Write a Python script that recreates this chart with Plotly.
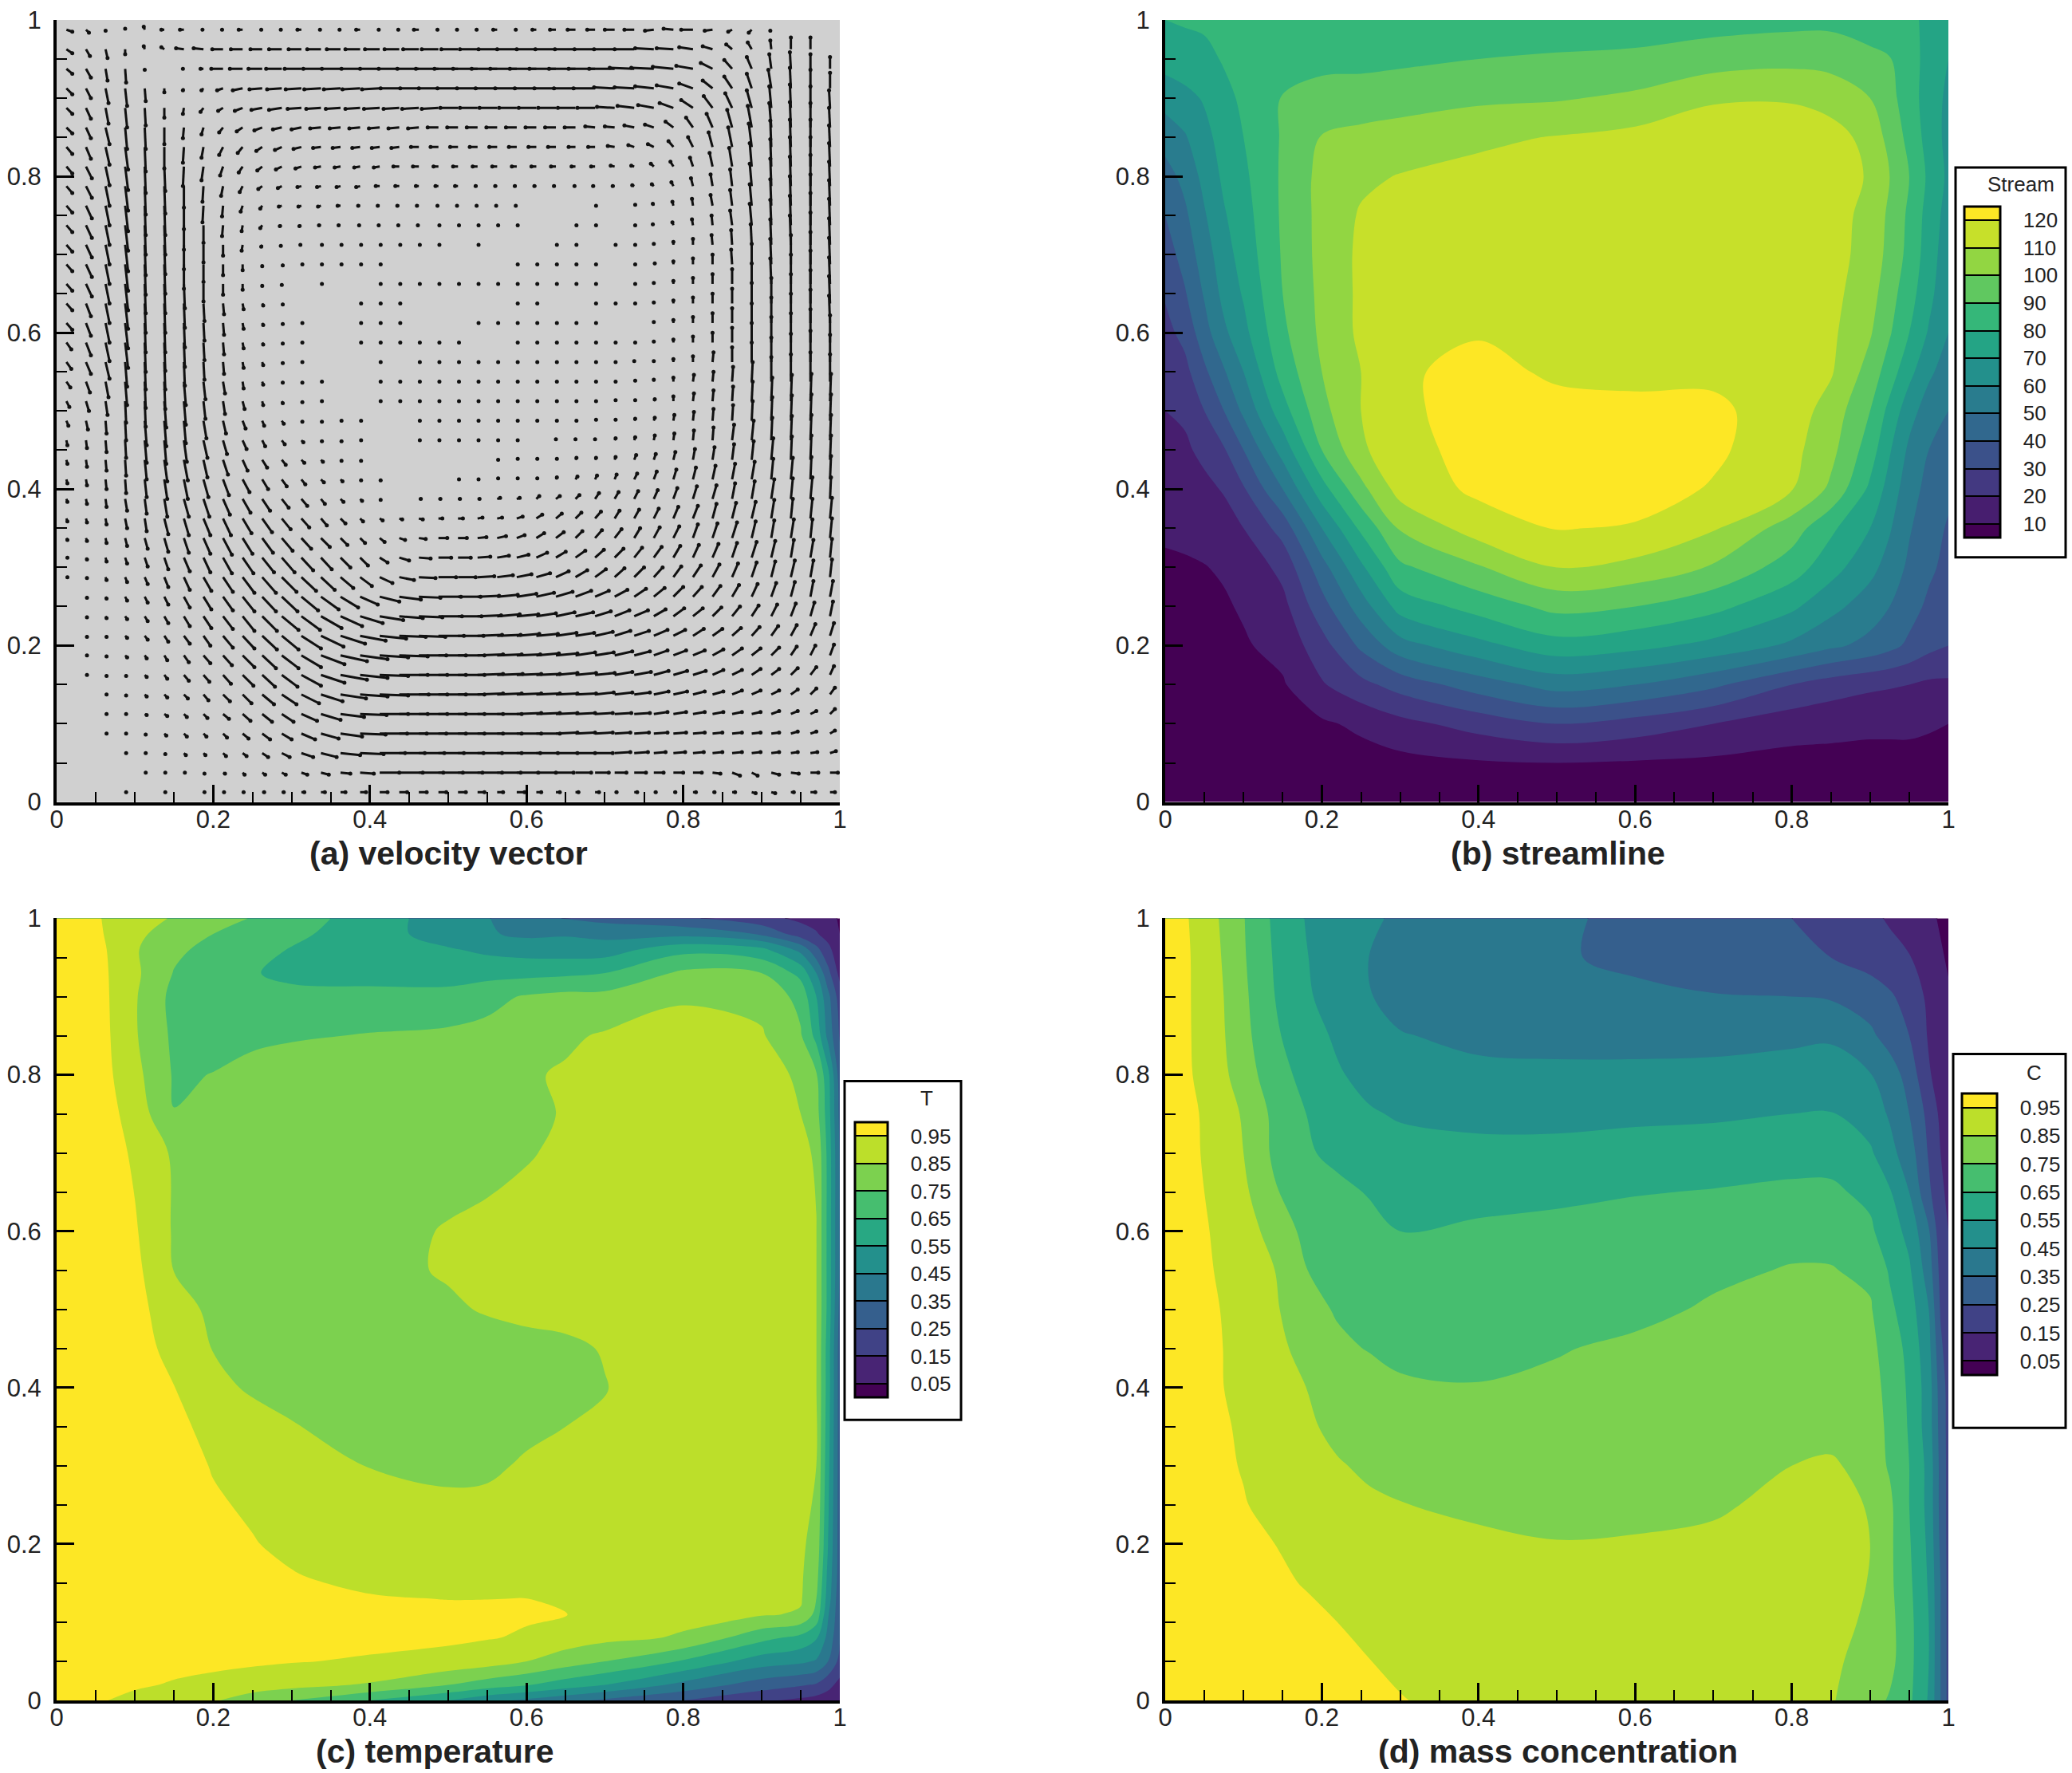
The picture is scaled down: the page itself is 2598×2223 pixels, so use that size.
import plotly.graph_objects as go

W, H = 2598, 2223

# ---------- (b) stream function ----------
X_B = [0, .025, .05, .075, .1, .15, .2, .25, .3, .4, .5, .6, .7, .8, .85, .9, .925, .95, .975, 1]
Y_B = [0, .05, .1, .15, .2, .25, .3, .35, .4, .45, .5, .55, .6, .65, .7, .75, .8, .85, .9, .95, 1]
Z_B = [
 [3,3,3,3,3,3,3,3,3,3,3,3,3,3,3,3,3,3,3,3],
 [5,5,5,5,5,5,6,6,7,9,10,9,8,7,7,7,7,7,7,6],
 [7,7,7,7,7,7,8.5,12,17,24,30,26,20,14,13,12,12,12,11,10],
 [8,8,8,8,8,9,19,27,34,45,54,50,42,30,25,22,21,20,18,18],
 [8,8,8,8.5,9,13,26,42,56,67,76,73,67,58,52,47,43,38,33,30],
 [8,8,8.5,9,11,17,36,55,74,84,93,90,83,72,63,55,50,44,38,34],
 [9,9,9.7,11,13,23,46,68,88,99,110,107,99,85,74,63,56,48,42,37],
 [11,12,13,15,20,34,60,82,101,115,120.5,119,111,95,82,70,61,51,44,39],
 [13,15,17,21,29,50,76,97,114,122,125,125,119,110.5,98,78,66,54,47,42],
 [16,18,23,29,40,64,90,108,118,122,125,125,122,113,103,85,71,58,50,46],
 [20,22,30,40,52,76,97,110,118,124,122,122,122,115,106,90,77,64,55,50],
 [24,27,38,49,60,84,100,110,119,122,119,118,118,114,111,96,85,73,62,55],
 [27,33,46,58,67,88,102,112,115,119.5,117,116,116,115,112,101,91,80,69,60],
 [31,39,51,63,71,90,102.5,112,115,116,116,116,116,116,113,104,94,84,73,62],
 [35,44,55,66,74,91,103,112,115,116,116,116,116,116,114,106,97,87,75,64],
 [40,48,59,69,76,91.5,103,111,114,116,115,115,115,115,114,107,98,88,76,66],
 [46,53,63,72,78,91.5,103,108,110.5,113,114,115,115,115,115,109,100,90,78,68],
 [54,59,67,74,80,91,100.5,102.5,104,108,110.5,113,115,116,115,106,97,87,76,67],
 [64,67,71,77,82,90.5,94,95,96,98,99,102,109,109,105,100,93,85,75,68],
 [74,76,77,81,83,86,87,87,88,90,91,92,95,97,97,92,90.5,85,76,70],
 [80,81,82,82,83,83,84,84,84,85,85,85,86,87,87,86,84,82,78,72],
]

# ---------- (c) temperature ----------
X_C = [0, .03, .06, .1, .15, .2, .25, .3, .4, .5, .55, .6, .65, .7, .8, .9, .95, .97, .985, 1]
Y_C = [0, .02, .05, .08, .11, .13, .16, .2, .3, .4, .45, .5, .55, .6, .7, .75, .8, .85, .9, .93, .96, .98, 1]
Z_C = [
 [1,1,.955,.92,.89,.86,.80,.75,.65,.55,.48,.43,.38,.33,.25,.165,.13,.11,.10,.08],
 [1,1,.99,.965,.94,.92,.90,.88,.84,.75,.70,.66,.60,.55,.42,.30,.26,.24,.18,.12],
 [1,1,1,1,.985,.975,.965,.955,.94,.92,.895,.85,.80,.75,.64,.50,.47,.44,.35,.22],
 [1,1,1,1,1,1,.99,.985,.975,.965,.955,.94,.90,.875,.84,.68,.62,.56,.42,.26],
 [1,1,1,1,1,1,1,.995,.985,.975,.97,.96,.952,.91,.875,.86,.84,.72,.46,.28],
 [1,1,1,1,1,1,.995,.98,.958,.948,.949,.951,.915,.90,.88,.87,.86,.75,.50,.28],
 [1,1,1,1,1,.99,.975,.955,.92,.905,.90,.895,.89,.885,.88,.875,.862,.79,.52,.3],
 [1,1,1,1,.99,.975,.955,.93,.90,.89,.885,.885,.88,.88,.88,.875,.865,.82,.55,.3],
 [1,1,1,1,.985,.945,.92,.885,.848,.835,.84,.857,.87,.88,.885,.88,.87,.85,.58,.3],
 [1,1,1,1,.952,.87,.84,.825,.815,.81,.815,.82,.83,.847,.885,.885,.875,.853,.6,.3],
 [1,1,1,.99,.92,.847,.825,.815,.81,.81,.815,.825,.835,.855,.885,.885,.875,.853,.6,.3],
 [1,1,1,.99,.88,.835,.825,.815,.815,.838,.857,.87,.875,.88,.885,.885,.875,.853,.62,.32],
 [1,1,1,.975,.848,.83,.82,.815,.825,.858,.87,.875,.88,.885,.885,.885,.875,.853,.62,.34],
 [1,1,1,.96,.84,.825,.82,.815,.825,.855,.865,.875,.88,.885,.885,.885,.875,.853,.62,.34],
 [1,1,1,.935,.835,.82,.81,.81,.815,.82,.83,.845,.862,.875,.885,.885,.87,.84,.62,.34],
 [1,1,.99,.91,.752,.78,.80,.81,.815,.825,.83,.835,.855,.875,.885,.88,.85,.79,.6,.32],
 [1,1,.98,.88,.74,.752,.78,.80,.81,.82,.83,.84,.86,.875,.885,.875,.84,.76,.58,.3],
 [1,1,.975,.86,.73,.725,.73,.74,.755,.77,.78,.80,.835,.86,.885,.86,.76,.62,.42,.24],
 [1,1,.97,.86,.72,.71,.70,.69,.69,.68,.72,.76,.78,.78,.84,.82,.72,.55,.38,.2],
 [1,1,.965,.87,.745,.70,.66,.615,.60,.61,.615,.62,.63,.65,.77,.75,.62,.45,.28,.12],
 [1,1,.96,.86,.77,.72,.68,.645,.60,.56,.53,.51,.50,.50,.62,.58,.42,.28,.18,.08],
 [1,1,.95,.88,.79,.75,.71,.67,.60,.50,.46,.43,.44,.42,.42,.34,.20,.16,.11,.05],
 [1,1,.945,.9,.84,.79,.745,.70,.60,.50,.455,.39,.345,.32,.27,.18,.13,.11,.08,.04],
]

# ---------- (d) mass concentration ----------
X_D = [0, .03, .05, .07, .1, .14, .18, .22, .26, .3, .4, .5, .6, .7, .8, .85, .9, .925, .95, .975, .99, 1]
Y_D = [0, .05, .1, .15, .2, .25, .3, .35, .4, .45, .5, .55, .6, .65, .7, .75, .8, .85, .9, .95, 1]
Z_D = [
 [1,1,1,1,1,1,1,.99,.975,.955,.91,.89,.885,.88,.875,.858,.79,.74,.67,.54,.35,.22],
 [1,1,1,1,1,1,.99,.975,.952,.93,.905,.89,.885,.885,.88,.865,.82,.78,.68,.55,.35,.22],
 [1,1,1,1,1,.985,.97,.95,.93,.915,.895,.885,.88,.88,.88,.87,.84,.78,.68,.55,.35,.22],
 [1,1,1,1,.985,.965,.945,.925,.91,.90,.885,.875,.87,.87,.87,.87,.848,.77,.67,.54,.35,.22],
 [1,1,1,.985,.97,.95,.925,.905,.89,.88,.87,.855,.86,.865,.87,.87,.85,.77,.66,.53,.33,.22],
 [1,1,1,.975,.955,.925,.90,.875,.86,.853,.83,.81,.82,.84,.87,.875,.845,.77,.65,.52,.32,.22],
 [1,1,.99,.965,.945,.905,.875,.855,.84,.825,.80,.78,.785,.81,.85,.87,.80,.74,.65,.52,.32,.22],
 [1,1,.985,.96,.94,.89,.86,.835,.82,.80,.78,.77,.77,.78,.80,.80,.775,.74,.64,.50,.31,.22],
 [1,.995,.98,.955,.925,.89,.85,.815,.795,.765,.755,.765,.785,.80,.81,.815,.79,.72,.635,.50,.30,.22],
 [1,.99,.975,.955,.915,.875,.82,.77,.745,.725,.72,.745,.765,.785,.80,.805,.78,.70,.625,.48,.27,.2],
 [1,.985,.97,.95,.905,.862,.785,.74,.72,.705,.70,.715,.73,.76,.78,.785,.76,.67,.60,.45,.24,.18],
 [1,.98,.965,.94,.895,.85,.752,.72,.70,.685,.68,.69,.71,.735,.755,.755,.73,.64,.565,.40,.22,.165],
 [1,.975,.96,.93,.885,.82,.72,.695,.675,.65,.66,.67,.69,.71,.725,.72,.665,.60,.52,.36,.19,.15],
 [1,.97,.95,.92,.87,.76,.69,.67,.645,.625,.63,.635,.645,.655,.665,.665,.63,.56,.45,.27,.17,.13],
 [1,.965,.945,.91,.85,.73,.66,.63,.60,.585,.58,.58,.59,.60,.62,.62,.565,.48,.40,.24,.15,.11],
 [1,.96,.945,.90,.84,.725,.65,.59,.56,.54,.52,.52,.53,.535,.55,.555,.50,.44,.35,.22,.13,.1],
 [1,.955,.935,.88,.80,.69,.62,.56,.52,.495,.47,.47,.47,.475,.48,.485,.455,.40,.31,.16,.11,.08],
 [1,.955,.925,.87,.78,.665,.59,.535,.49,.455,.43,.42,.42,.42,.435,.44,.37,.31,.25,.14,.09,.07],
 [1,.955,.92,.865,.77,.65,.565,.50,.455,.42,.40,.39,.37,.355,.35,.34,.30,.265,.21,.13,.08,.06],
 [1,.955,.915,.855,.76,.64,.555,.49,.45,.42,.385,.36,.33,.30,.27,.25,.21,.18,.155,.10,.06,.04],
 [1,.95,.905,.845,.755,.63,.545,.50,.46,.44,.41,.37,.32,.29,.25,.20,.17,.14,.11,.07,.04,.03],
]

# ---------- (a) velocity vectors ----------
X_A = [.0125 + .025 * i for i in range(40)]
Y_A = [.0125 + .025 * j for j in range(40)]
U_A = [
 [0,0,0,1,0,1,0,1,1,1,2,2,3,4,5,6,8,8,8,8,8,7,6,8,5,4,3,4,2,3,2,2,3,2,3,4,4,3,5,5],
 [0,0,0,0,1,1,1,1,2,2,3,4,6,8,10,14,20,24,25,25,25,25,24,22,20,18,16,14,12,12,10,10,9,8,8,6,8,8,8,8],
 [0,0,0,1,1,1,2,2,3,4,6,8,12,16,20,24,26,26,26,26,26,25,25,24,22,22,20,18,16,14,12,12,11,10,10,9,8,7,7,6],
 [0,0,1,1,1,2,3,3,4,6,8,10,14,18,22,26,28,28,28,28,27,26,25,25,24,22,20,18,16,15,14,13,12,10,10,9,8,7,6,5],
 [0,0,1,1,2,3,3,4,6,8,10,12,16,20,24,27,29,29,29,28,27,26,25,25,24,22,20,18,17,16,14,13,12,11,10,9,8,7,6,5],
 [0,0,1,1,2,3,4,5,7,9,12,15,18,22,26,28,29,30,29,28,27,26,25,25,24,22,21,19,18,16,15,14,12,11,10,9,8,7,6,5],
 [0,1,1,1,2,3,5,6,8,11,13,16,20,24,27,28,29,29,29,28,27,26,26,25,24,22,21,20,18,17,15,14,13,11,10,9,8,7,6,4],
 [0,1,1,2,2,3,5,7,9,12,14,17,20,24,27,28,29,29,28,28,27,26,25,24,23,22,20,19,18,16,14,13,12,11,10,9,8,6,5,4],
 [0,1,1,2,3,4,6,7,10,12,15,17,20,23,25,26,27,27,27,26,26,25,24,23,22,21,19,18,16,15,14,12,11,10,9,8,7,6,5,4],
 [0,1,1,2,3,4,6,8,10,12,15,17,19,21,22,23,24,24,24,24,24,24,23,22,20,19,18,16,15,14,12,11,10,9,8,7,6,5,4,3],
 [0,1,1,2,3,4,6,8,10,12,14,16,17,18,18,18,20,22,22,23,23,22,21,20,18,17,16,14,13,12,11,10,9,8,7,6,5,4,3,3],
 [1,1,1,2,3,4,6,8,10,12,14,15,15,14,13,12,13,15,17,18,18,17,16,15,14,13,12,11,10,10,9,8,8,7,6,5,4,4,3,2],
 [1,1,1,2,3,4,6,7,9,11,12,13,12,11,10,8,8,10,12,13,13,13,12,12,11,10,10,9,9,8,8,7,6,6,5,5,4,3,3,2],
 [1,1,1,2,3,4,5,7,9,10,11,11,10,9,7,5,5,6,7,9,9,9,9,8,8,8,7,7,7,6,6,6,5,5,5,4,3,3,2,2],
 [1,1,1,2,2,4,5,7,8,9,10,9,8,6,5,3,3,3,4,4,5,5,5,6,6,6,6,6,5,5,5,5,5,4,4,4,3,2,2,2],
 [1,1,1,2,2,3,5,6,7,8,8,7,6,4,3,2,1,0,2,2,2,2,3,3,3,4,4,4,4,4,4,4,4,4,3,3,3,2,2,1],
 [1,1,1,1,2,3,4,5,6,7,6,5,4,3,2,1,1,0,0,0,1,1,1,1,1,1,2,2,2,3,3,3,3,3,3,3,2,2,1,1],
 [1,1,1,1,2,3,4,4,5,5,5,4,3,2,1,1,0,0,0,0,0,0,1,1,1,1,1,1,1,2,2,2,2,2,2,2,2,1,1,1],
 [1,1,1,1,2,2,3,4,4,4,3,3,2,1,1,1,0,0,1,1,1,1,1,1,0,0,0,0,1,1,1,1,1,1,2,2,1,1,1,1],
 [2,2,1,1,2,2,2,3,3,3,2,2,1,1,1,1,0,0,1,1,1,1,1,1,1,1,1,1,1,1,1,1,1,1,1,1,1,1,1,1],
 [3,3,2,1,1,2,2,2,2,2,1,1,1,1,0,0,1,1,1,1,1,1,1,1,1,1,1,1,1,1,1,0,1,1,1,1,1,1,1,1],
 [4,4,3,2,1,1,2,2,2,1,1,1,1,1,0,0,1,1,1,1,1,1,1,1,1,1,1,1,1,1,0,0,1,1,1,1,0,0,0,0],
 [5,5,4,2,1,1,1,1,1,1,1,1,1,0,0,0,1,0,1,1,1,1,1,1,1,1,1,1,1,0,0,0,0,1,0,0,0,0,0,0],
 [5,5,4,3,1,1,1,1,1,1,1,1,1,0,0,1,1,1,1,1,1,0,0,1,1,1,1,1,1,1,0,0,0,0,0,0,0,0,0,0],
 [6,5,4,3,1,1,1,1,1,1,1,1,1,0,0,1,1,1,0,0,0,1,1,1,1,1,1,1,0,0,0,0,0,0,0,0,0,0,0,-1],
 [6,5,4,3,1,1,1,1,1,1,1,1,0,0,0,1,1,1,0,0,0,0,0,1,1,0,0,1,1,1,0,0,0,0,0,0,0,0,0,-1],
 [6,6,4,3,1,1,1,0,0,0,0,0,0,1,0,0,1,1,1,1,1,1,1,1,1,1,1,1,0,1,0,0,0,0,0,0,-1,0,0,-1],
 [6,6,4,3,1,1,0,0,0,0,0,1,1,1,1,1,1,0,0,0,0,0,0,1,1,1,1,1,0,1,1,0,0,0,-1,0,-1,0,0,-1],
 [6,6,4,3,1,1,0,0,0,-1,-1,-1,-1,1,1,1,1,1,1,1,0,1,0,0,0,1,1,0,1,1,0,0,0,-1,-1,-1,-1,-1,0,-1],
 [6,6,4,3,1,1,0,0,-1,-1,-2,-2,-2,-2,-2,-1,-1,-1,-1,1,1,1,1,1,0,0,1,1,0,1,-1,-1,-1,-1,-2,-2,-1,-1,0,-1],
 [6,6,4,3,1,1,0,-1,-1,-2,-2,-3,-3,-3,-3,-2,-2,-2,-2,-1,-1,-1,-1,-1,0,0,0,1,0,1,-1,-1,-1,-2,-2,-2,-1,-1,0,-1],
 [6,6,4,3,1,1,0,-1,-2,-3,-4,-4,-4,-4,-4,-4,-4,-4,-3,-3,-3,-2,-2,-2,-2,-2,-1,-2,-2,-2,-2,-2,-2,-2,-2,-2,-1,-1,0,-1],
 [6,6,4,3,1,1,-1,-2,-3,-4,-5,-6,-6,-6,-6,-6,-6,-6,-6,-5,-5,-5,-5,-5,-5,-5,-4,-4,-4,-3,-3,-3,-3,-3,-3,-2,-1,-1,0,-1],
 [6,5,4,3,1,0,-1,-2,-4,-5,-6,-7,-8,-8,-8,-8,-8,-8,-8,-8,-8,-8,-8,-8,-8,-8,-7,-7,-7,-6,-6,-5,-5,-4,-4,-3,-1,-1,0,-1],
 [6,5,4,2,1,0,-1,-2,-4,-6,-8,-9,-10,-11,-11,-11,-11,-11,-11,-11,-11,-11,-11,-11,-11,-11,-11,-10,-10,-10,-9,-8,-7,-6,-5,-4,-2,-1,0,-1],
 [6,5,3,2,1,0,-1,-3,-5,-8,-11,-13,-14,-15,-15,-15,-16,-16,-17,-17,-18,-18,-18,-18,-18,-18,-18,-18,-18,-17,-16,-14,-12,-9,-7,-5,-2,-1,0,-1],
 [6,5,3,2,1,0,-1,-2,-6,-10,-13,-15,-16,-17,-17,-18,-18,-19,-19,-20,-21,-21,-22,-22,-22,-22,-22,-22,-21,-20,-19,-17,-14,-10,-8,-5,-3,-1,0,0],
 [6,5,2,1,0,0,-1,-3,-12,-13,-14,-16,-17,-18,-19,-19,-20,-21,-22,-23,-24,-25,-26,-27,-27,-27,-27,-27,-26,-25,-23,-21,-17,-12,-8,-5,-2,-1,0,0],
 [6,4,2,0,-1,-3,-8,-10,-11,-12,-12,-13,-13,-14,-14,-15,-15,-15,-16,-17,-17,-18,-19,-20,-20,-21,-21,-21,-21,-20,-19,-17,-14,-10,-6,-4,-1,0,0,0],
 [6,3,0,0,-1,-3,-4,-1,-1,-4,-1,-1,-4,-1,-1,-4,-1,-1,-5,-1,-1,-1,-4,-1,-4,-6,-8,-8,-10,-10,-9,-10,-12,-8,-4,-3,-1,0,0,0],
]
V_A = [
 [0,0,0,0,0,0,0,0,0,0,0,0,0,0,0,0,0,0,0,0,0,0,0,0,0,0,0,0,0,0,0,0,0,0,0,-1,-1,0,0,0],
 [0,0,0,0,0,0,0,-1,-1,-2,-2,-2,-2,-2,-1,-1,0,0,0,0,0,0,0,0,0,0,0,0,0,0,0,0,0,-1,-3,-3,-2,-1,0,0],
 [0,0,0,0,0,-1,-2,-2,-3,-3,-4,-4,-4,-4,-2,-1,0,0,0,0,0,0,0,0,0,0,0,0,1,1,1,1,1,1,1,1,1,1,1,2],
 [0,0,0,0,-1,-2,-3,-3,-4,-5,-6,-6,-6,-5,-3,-1,0,0,0,0,0,0,0,0,0,1,1,1,1,1,1,1,1,1,1,1,1,2,2,3],
 [0,0,0,0,-1,-2,-3,-4,-5,-7,-8,-8,-7,-6,-3,-1,0,0,0,0,0,0,0,1,1,1,1,1,1,1,2,2,2,2,2,2,3,3,3,5],
 [0,0,0,-1,-2,-3,-4,-6,-7,-9,-10,-10,-9,-7,-4,-2,-1,0,0,0,0,1,1,1,1,1,1,2,2,2,3,3,3,3,4,4,4,5,6,7],
 [0,0,-1,-1,-2,-4,-6,-7,-9,-11,-12,-12,-11,-8,-5,-3,-1,0,0,0,0,1,1,1,1,2,2,2,3,3,4,4,4,5,5,6,6,7,8,9],
 [0,0,-1,-2,-3,-5,-7,-8,-10,-12,-13,-13,-12,-9,-6,-4,-2,-1,0,0,0,1,1,1,2,2,3,3,4,4,5,5,5,6,7,7,8,9,10,11],
 [0,-1,-1,-2,-4,-6,-8,-10,-12,-13,-14,-14,-13,-11,-8,-5,-3,-1,-1,0,0,1,1,2,2,3,3,4,5,5,6,6,7,7,8,9,10,11,12,13],
 [0,-1,-2,-3,-5,-7,-10,-12,-13,-15,-15,-14,-14,-12,-10,-7,-4,-2,-1,0,0,1,2,2,3,4,4,5,6,6,7,8,8,9,10,11,12,13,14,15],
 [0,-1,-2,-4,-6,-8,-11,-13,-14,-15,-15,-15,-14,-13,-11,-8,-5,-3,-1,0,0,1,2,3,4,5,6,6,7,8,9,10,10,11,12,13,14,15,16,16],
 [0,-1,-3,-5,-7,-10,-13,-14,-15,-16,-16,-15,-14,-13,-11,-9,-6,-3,-1,0,0,1,2,3,4,6,7,8,9,10,10,11,12,13,14,15,16,17,17,18],
 [0,-2,-4,-6,-9,-12,-14,-15,-16,-16,-15,-15,-13,-12,-10,-8,-5,-3,-1,0,0,1,2,3,5,6,7,8,9,10,11,12,13,14,15,16,17,18,18,19],
 [-2,-3,-5,-8,-11,-14,-15,-16,-17,-16,-15,-13,-11,-9,-7,-5,-4,-2,-1,0,0,1,2,3,5,6,7,8,9,10,11,12,14,15,16,17,18,19,19,20],
 [-3,-4,-6,-10,-13,-16,-17,-17,-17,-15,-14,-11,-9,-7,-5,-3,-2,-1,-1,0,0,1,1,2,4,5,6,7,8,9,10,12,13,15,16,17,19,20,20,21],
 [-3,-5,-8,-12,-15,-18,-18,-18,-16,-14,-12,-9,-7,-5,-3,-2,-1,0,0,0,0,0,1,1,3,3,4,6,7,8,9,11,13,14,16,18,20,21,22,22],
 [-4,-6,-10,-14,-18,-20,-20,-18,-16,-13,-10,-7,-5,-3,-2,-1,-1,0,0,0,0,0,1,1,1,2,3,4,5,6,8,10,12,14,16,18,21,22,23,24],
 [-4,-7,-11,-16,-20,-22,-21,-18,-15,-11,-8,-5,-3,-2,-1,-1,0,0,0,0,0,0,0,1,1,1,2,2,3,5,6,8,11,13,16,19,22,24,25,25],
 [-5,-8,-12,-18,-23,-24,-22,-18,-14,-9,-6,-4,-2,-1,-1,0,0,0,0,0,0,0,0,0,0,1,1,1,2,3,5,7,10,13,16,20,23,25,26,26],
 [-5,-9,-13,-20,-25,-26,-23,-18,-13,-8,-5,-3,-1,-1,0,0,0,0,0,0,0,0,0,0,0,0,0,1,1,2,3,6,9,12,16,20,24,26,27,27],
 [-6,-10,-14,-22,-26,-27,-24,-18,-13,-8,-4,-2,-1,0,0,0,0,0,0,0,0,0,0,0,0,0,0,0,1,1,2,5,8,11,15,20,24,27,28,28],
 [-6,-11,-16,-24,-27,-28,-24,-18,-12,-7,-3,-1,-1,0,0,0,0,0,0,0,0,0,0,0,0,0,0,0,0,1,2,4,7,10,15,20,25,28,30,28],
 [-7,-12,-17,-25,-28,-28,-24,-18,-12,-6,-3,-1,0,0,0,0,0,0,0,0,0,0,0,0,0,0,0,0,0,1,1,3,6,10,15,20,25,29,32,28],
 [-7,-13,-19,-26,-30,-29,-25,-18,-12,-6,-2,-1,0,0,0,0,0,0,0,0,0,0,0,0,0,0,0,0,0,0,1,3,6,10,15,20,26,30,34,28],
 [-7,-13,-20,-26,-30,-30,-25,-18,-12,-6,-2,-1,0,0,0,0,0,0,0,0,0,0,0,0,0,0,0,0,0,0,1,3,6,10,15,20,26,30,34,28],
 [-7,-13,-20,-26,-30,-30,-25,-18,-11,-6,-2,-1,0,0,0,0,0,0,0,0,0,0,0,0,0,0,0,0,0,0,1,3,6,10,15,21,26,30,34,28],
 [-7,-13,-20,-27,-30,-30,-25,-18,-11,-6,-2,-1,0,0,0,0,0,0,0,0,0,0,0,0,0,0,0,0,0,0,1,3,6,10,15,21,26,30,34,27],
 [-7,-13,-20,-27,-31,-30,-25,-18,-11,-6,-2,-1,0,0,0,0,0,0,0,0,0,0,0,0,0,0,0,0,0,0,1,3,6,10,15,21,26,30,33,27],
 [-7,-13,-20,-27,-31,-30,-25,-18,-11,-6,-2,-1,0,0,0,0,0,0,0,0,0,0,0,0,0,0,0,0,0,0,1,3,6,10,15,21,26,30,33,27],
 [-7,-13,-20,-26,-30,-30,-25,-18,-11,-6,-3,-1,-1,0,0,0,0,0,0,0,0,0,0,0,0,0,0,0,0,0,1,3,6,10,15,22,26,30,33,27],
 [-7,-13,-20,-26,-30,-30,-24,-17,-11,-6,-3,-1,-1,-1,0,0,0,0,0,0,0,0,0,0,0,0,0,0,0,1,2,4,7,11,16,22,27,30,32,26],
 [-7,-12,-20,-25,-29,-28,-22,-16,-10,-6,-3,-2,-1,-1,-1,-1,0,0,0,0,0,0,0,0,0,0,0,0,0,1,2,4,8,12,17,23,28,30,32,25],
 [-7,-12,-19,-24,-27,-25,-20,-14,-9,-6,-4,-3,-2,-1,-1,-1,-1,0,0,0,0,0,0,0,0,0,0,0,1,1,3,5,9,14,19,24,28,30,30,24],
 [-7,-12,-18,-23,-25,-22,-16,-11,-8,-6,-4,-3,-2,-1,-1,-1,-1,-1,0,0,0,0,0,0,0,0,0,0,1,2,3,6,10,15,20,24,27,28,28,22],
 [-6,-11,-17,-22,-22,-17,-11,-7,-5,-4,-3,-2,-2,-1,-1,-1,-1,-1,-1,0,0,0,0,0,0,0,0,1,1,2,3,6,10,14,18,22,25,26,25,20],
 [-6,-11,-16,-20,-18,-10,-6,-4,-3,-3,-2,-2,-1,-1,-1,-1,-1,-1,-1,-1,0,0,0,0,0,0,0,0,1,2,3,5,8,12,15,18,22,24,22,18],
 [-6,-10,-15,-18,-13,-4,-2,-2,-2,-2,-1,-1,-1,-1,-1,-1,-1,0,0,0,0,0,0,0,0,0,0,0,1,1,2,3,5,8,12,15,19,21,19,16],
 [-5,-9,-12,-14,-1,0,0,0,0,0,0,0,0,0,0,0,0,0,0,0,0,0,0,0,0,0,0,0,0,1,1,2,3,6,9,12,15,17,15,12],
 [-4,-7,-9,-5,3,2,1,1,0,0,0,0,0,0,0,0,0,0,0,0,0,0,0,0,0,0,0,0,0,0,1,1,2,3,5,7,9,12,12,0],
 [-2,-3,-1,1,3,0,0,0,0,0,0,0,0,0,0,0,0,0,0,0,0,0,0,0,0,0,0,0,0,0,-1,1,0,-1,-2,-3,-1,0,0,0],
]
ARROW_SCALE = .00125

LEVELS_B = dict(start=10, end=120, size=10)
LEVELS_CD = dict(start=.05, end=.95, size=.1)
TICKS_B = [10, 20, 30, 40, 50, 60, 70, 80, 90, 100, 110, 120]
TICKTEXT_B = ["10", "20", "30", "40", "50", "60", "70", "80", "90", "100", "110", "120"]
TICKS_CD = [.05, .15, .25, .35, .45, .55, .65, .75, .85, .95]
TICKTEXT_CD = ["0.05", "0.15", "0.25", "0.35", "0.45", "0.55", "0.65", "0.75", "0.85", "0.95"]
LABELS = ["(a) velocity vector", "(b) streamline", "(c) temperature", "(d) mass concentration"]

for name, z, nx in (("B", Z_B, len(X_B)), ("C", Z_C, len(X_C)), ("D", Z_D, len(X_D)), ("U", U_A, 40), ("V", V_A, 40)):
    for i, row in enumerate(z):
        assert len(row) == nx, (name, i, len(row))
assert len(Z_B) == len(Y_B) and len(Z_C) == len(Y_C) and len(Z_D) == len(Y_D) and len(U_A) == len(V_A) == 40

# plot-area margins; the renderer widens top and bottom a little, so ET / EB are the margins it really uses
ML, MR = 20, 60
ET, EB = 16, 18
def fx(px): return (px - ML) / (W - ML - MR)
def fy(py): return 1 - (py - ET) / (H - ET - EB)

# pixel boxes of the four panels: left, right, top, bottom
BOX = {"a": (71, 1053, 24, 1005), "b": (1461, 2443, 24, 1005),
       "c": (71, 1053, 1151, 2132), "d": (1461, 2443, 1151, 2132)}
FONT = "Liberation Sans"
INK = "#222222"
NB = "\u00a0"

fig = go.Figure()

for idx, key in enumerate("abcd", start=1):
    l, r, t, b = BOX[key]
    common = dict(range=[0, 1], showgrid=False, zeroline=False, showline=True, linecolor="black", linewidth=4,
                  ticks="inside", ticklen=22, tickwidth=3, tickcolor="black", tick0=0, dtick=.2,
                  tickfont=dict(family=FONT, size=31, color=INK),
                  minor=dict(ticks="inside", ticklen=13, tickwidth=2, tickcolor="black", tick0=0, dtick=.05, showgrid=False))
    sfx = "" if idx == 1 else str(idx)
    fig.layout["xaxis" + sfx] = dict(domain=[fx(l), fx(r)], anchor="y" + sfx, ticklabelstandoff=-9, **common)
    fig.layout["yaxis" + sfx] = dict(domain=[fy(b), fy(t)], anchor="x" + sfx, ticklabelstandoff=9, **common)

# (a) vectors
lx, ly, mx, my = [], [], [], []
for j, y in enumerate(Y_A):
    for i, x in enumerate(X_A):
        u, v = U_A[j][i], V_A[j][i]
        if u == 0 and v == 0:
            continue
        x2, y2 = x + u * ARROW_SCALE, y + v * ARROW_SCALE
        lx += [x, x2, None]
        ly += [y, y2, None]
        mx.append(x2)
        my.append(y2)
fig.add_shape(type="rect", xref="x domain", yref="y domain", x0=0, x1=1, y0=0, y1=1,
              fillcolor="#d0d0d0", line_width=0, layer="below")
fig.add_trace(go.Scatter(x=lx, y=ly, mode="lines", line=dict(color="#111111", width=3), xaxis="x", yaxis="y",
                         showlegend=False, hoverinfo="skip"))
fig.add_trace(go.Scatter(x=mx, y=my, mode="markers", marker=dict(color="#111111", size=5), xaxis="x", yaxis="y",
                         showlegend=False, hoverinfo="skip"))


def contour(x, y, z, levels, ax, ay, cb):
    # first trace carries the legend (its black level lines feed the colour bar);
    # the same field is drawn again on top without lines, so the panel itself stays line-free
    fig.add_trace(go.Contour(x=x, y=y, z=z, xaxis=ax, yaxis=ay, colorscale="Viridis",
                             contours=dict(coloring="fill", showlines=True, **levels),
                             line=dict(width=2, color="black", smoothing=1.0), colorbar=cb, autocontour=False,
                             showscale=True, hoverinfo="skip"))
    fig.add_trace(go.Contour(x=x, y=y, z=z, xaxis=ax, yaxis=ay, colorscale="Viridis",
                             contours=dict(coloring="fill", showlines=False, **levels),
                             line=dict(width=0, smoothing=1.0), autocontour=False,
                             showscale=False, hoverinfo="skip"))


def cbar(bar_left, bar_top, bar_h, thick, tickvals, ticktext, tsize=26):
    return dict(x=fx(bar_left), xanchor="left", y=fy(bar_top), yanchor="top",
                lenmode="pixels", len=bar_h, thicknessmode="pixels", thickness=thick,
                bgcolor="rgba(0,0,0,0)", borderwidth=0, outlinecolor="black", outlinewidth=3,
                xpad=0, ypad=0, ticks="", tickvals=tickvals, ticktext=[NB * 3 + t for t in ticktext],
                tickfont=dict(family=FONT, size=tsize, color=INK))


contour(X_B, Y_B, Z_B, LEVELS_B, "x2", "y2", cbar(2463, 258, 415, 45, TICKS_B, TICKTEXT_B))
contour(X_C, Y_C, Z_C, LEVELS_CD, "x3", "y3", cbar(1072, 1407, 345, 41, TICKS_CD, TICKTEXT_CD))
contour(X_D, Y_D, Z_D, LEVELS_CD, "x4", "y4", cbar(2460, 1371, 353, 44, TICKS_CD, TICKTEXT_CD))

# legend frames: left, right, top, bottom in pixels
for l, r, t, b in [(2452, 2590, 209, 698), (1059, 1205, 1355, 1780), (2449, 2590, 1321, 1790)]:
    fig.add_shape(type="rect", xref="paper", yref="paper", x0=fx(l), x1=fx(r), y0=fy(b), y1=fy(t),
                  line=dict(color="black", width=3), fillcolor="rgba(0,0,0,0)")

for text, px, py in [("Stream", 2578, 230), ("T", 1172, 1377), ("C", 2562, 1345)]:
    fig.add_annotation(text=text, xref="paper", yref="paper", x=fx(px), y=fy(py), showarrow=False,
                       font=dict(family=FONT, size=26, color=INK), xanchor="right", yanchor="middle")

LABEL_POS = [(562, 1069), (1953, 1069), (545, 2196), (1953, 2196)]
for text, (px, py) in zip(LABELS, LABEL_POS):
    fig.add_annotation(text=text, xref="paper", yref="paper", x=fx(px), y=fy(py), showarrow=False,
                       font=dict(family=FONT, size=41, color=INK, weight="bold"), xanchor="center", yanchor="middle")

fig.update_layout(width=W, height=H, autosize=False, margin=dict(l=ML, r=MR, t=0, b=0),
                  paper_bgcolor="white", plot_bgcolor="rgba(0,0,0,0)", showlegend=False)
fig.write_html("out.html", config={"displayModeBar": False})
page = open("out.html", encoding="utf-8").read()
page = page.replace("<head>", "<head><style>html,body{margin:0;padding:0;overflow:hidden}</style>", 1)
open("out.html", "w", encoding="utf-8").write(page)
